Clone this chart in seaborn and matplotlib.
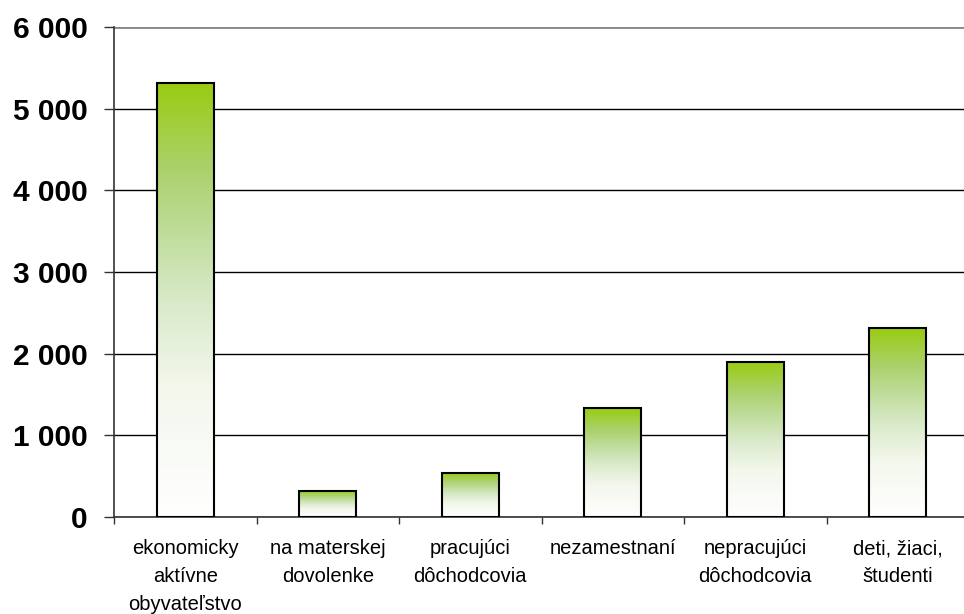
import numpy as np
import pandas as pd
import matplotlib
matplotlib.use('Agg')
import matplotlib.pyplot as plt
from matplotlib.colors import LinearSegmentedColormap
import seaborn as sns

categories = ['ekonomicky\naktívne\nobyvateľstvo', 'na materskej\ndovolenke',
              'pracujúci\ndôchodcovia', 'nezamestnaní',
              'nepracujúci\ndôchodcovia', 'deti, žiaci,\nštudenti']
values = [5320, 320, 540, 1330, 1900, 2310]
yticks = [0, 1000, 2000, 3000, 4000, 5000, 6000]
ytick_labels = ['0', '1 000', '2 000', '3 000', '4 000', '5 000', '6 000']

df = pd.DataFrame({'kategoria': categories, 'pocet': values})

sns.set_style('white')
plt.rcParams['font.family'] = ['Liberation Sans', 'DejaVu Sans']
plt.rcParams['text.color'] = 'black'
plt.rcParams['xtick.color'] = 'black'
plt.rcParams['ytick.color'] = 'black'

fig = plt.figure(figsize=(9.64, 6.14), dpi=100)
ax = fig.add_axes([114 / 964, 97 / 614, 855 / 964, 490 / 614])

sns.barplot(data=df, x='kategoria', y='pocet', ax=ax, width=0.4,
            facecolor='none', edgecolor='black', linewidth=1.5, zorder=3)

# green -> white gradient inside each bar
grad_cmap = LinearSegmentedColormap.from_list('zelena', [
    (0.0, '#ffffff'), (0.3, '#f3f7ec'), (0.5, '#d8e9c8'),
    (0.65, '#c0dd9c'), (0.8, '#abd16c'), (1.0, '#99cc11')])
grad = np.linspace(0, 1, 256).reshape(-1, 1)
for p in ax.patches:
    x0, y0 = p.get_x(), p.get_y()
    w, h = p.get_width(), p.get_height()
    im = ax.imshow(grad, cmap=grad_cmap, origin='lower', aspect='auto',
                   extent=[x0, x0 + w, y0, y0 + h], zorder=2)
    im.set_clip_path(p)

ax.set_xlim(-0.5, len(categories) - 0.5)
ax.set_ylim(0, 6000)
ax.set_yticks(yticks)
ax.set_yticklabels(ytick_labels, fontsize=21.5, fontweight='bold')
ax.set_xticks(range(len(categories)))
ax.set_xticklabels(categories, fontsize=14.5, linespacing=1.58)
ax.set_xticks(np.arange(-0.5, len(categories), 1), minor=True)
ax.tick_params(axis='x', which='major', length=0, pad=16, labelcolor='black')
ax.tick_params(axis='x', which='minor', length=5, width=1, color='#333333',
               direction='out', bottom=True)
ax.tick_params(axis='y', length=7, width=1, color='#333333', pad=12,
               direction='out', left=True, labelcolor='black')
ax.set_xlabel('')
ax.set_ylabel('')

ax.yaxis.grid(True, color='black', linewidth=1)
ax.set_axisbelow(True)
ax.get_ygridlines()[-1].set_color('#888888')
ax.get_ygridlines()[-1].set_linewidth(2)

for s in ['top', 'right']:
    ax.spines[s].set_visible(False)
ax.spines['left'].set_color('#333333')
ax.spines['left'].set_linewidth(1.2)
ax.spines['bottom'].set_color('#333333')
ax.spines['bottom'].set_linewidth(1.2)

fig.savefig('out.png', dpi=100)
